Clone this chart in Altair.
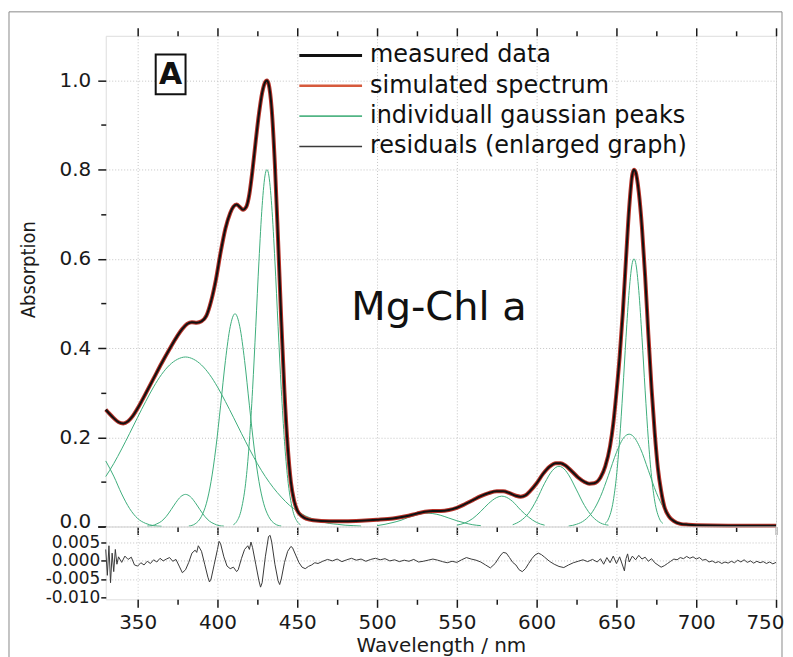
import altair as alt
import pandas as pd

# ---------------- values ----------------
MEAS_NM = [330, 332, 335, 338, 341, 344, 347, 350, 355, 360, 365, 370, 375, 378, 381, 384, 387, 390,
           393, 396, 399, 402, 405, 408, 410, 412, 414, 416, 418, 420, 422, 424, 426, 428, 430, 431,
           432, 434, 436, 438, 440, 442, 444, 446, 448, 450, 453, 456, 460, 470, 480, 490, 500, 510,
           518, 525, 530, 535, 540, 545, 550, 555, 560, 565, 570, 575, 579, 583, 587, 590, 593, 596,
           600, 604, 608, 612, 615, 618, 622, 626, 630, 633, 636, 640, 643, 646, 648, 650, 652, 654,
           656, 658, 660, 661, 662, 664, 666, 668, 670, 672, 674, 676, 678, 680, 683, 686, 690, 695,
           700, 720, 750]
MEAS_ABS = [0.262, 0.254, 0.243, 0.234, 0.231, 0.236, 0.248, 0.265, 0.298, 0.332, 0.366, 0.398, 0.428,
            0.443, 0.454, 0.458, 0.457, 0.460, 0.472, 0.505, 0.553, 0.615, 0.668, 0.703, 0.717, 0.722,
            0.716, 0.710, 0.716, 0.745, 0.800, 0.865, 0.925, 0.972, 0.997, 1.000, 0.993, 0.935, 0.810,
            0.640, 0.460, 0.300, 0.180, 0.100, 0.058, 0.036, 0.023, 0.017, 0.014, 0.012, 0.012, 0.013,
            0.015, 0.018, 0.023, 0.029, 0.033, 0.035, 0.035, 0.037, 0.042, 0.050, 0.059, 0.068, 0.075,
            0.079, 0.079, 0.075, 0.069, 0.067, 0.070, 0.080, 0.097, 0.118, 0.134, 0.142, 0.142, 0.137,
            0.124, 0.110, 0.100, 0.096, 0.097, 0.110, 0.135, 0.180, 0.230, 0.300, 0.380, 0.480, 0.600,
            0.715, 0.790, 0.800, 0.795, 0.750, 0.670, 0.560, 0.430, 0.310, 0.210, 0.130, 0.080, 0.045,
            0.022, 0.012, 0.006, 0.004, 0.003, 0.002, 0.002]

# simulated spectrum (the fit lies on top of the measured data)
SIM_NM = list(MEAS_NM)
SIM_ABS = list(MEAS_ABS)

# individual gaussian peaks
G1_NM = [330, 335, 340, 345, 350, 355, 360, 365]
G1_ABS = [0.147, 0.113, 0.073, 0.040, 0.018, 0.007, 0.002, 0.0005]
G2_NM = [330, 335, 340, 345, 350, 355, 360, 365, 370, 375, 380, 385, 390, 395, 400, 405, 410,
         415, 420, 425, 430, 435, 440, 445, 450, 455, 460, 465, 470, 475, 480, 485, 490]
G2_ABS = [0.112, 0.141, 0.174, 0.209, 0.245, 0.280, 0.313, 0.341, 0.362, 0.375, 0.380, 0.375, 0.362,
          0.341, 0.313, 0.280, 0.245, 0.209, 0.174, 0.141, 0.112, 0.087, 0.066, 0.048, 0.035, 0.024,
          0.017, 0.011, 0.007, 0.005, 0.003, 0.002, 0.001]
G3_NM = [356, 359, 362, 365, 368, 371, 374, 377, 380, 383, 386, 389, 392, 395, 398, 401, 404]
G3_ABS = [0.001, 0.002, 0.006, 0.012, 0.023, 0.038, 0.054, 0.067, 0.072, 0.067, 0.054, 0.038, 0.023,
          0.012, 0.006, 0.002, 0.001]
G4_NM = [382, 386, 390, 393, 396, 399, 402, 405, 408, 411, 414, 417, 420, 423, 426, 429, 432, 436, 440]
G4_ABS = [0.001, 0.006, 0.023, 0.051, 0.101, 0.176, 0.272, 0.372, 0.448, 0.477, 0.448, 0.372, 0.272,
          0.176, 0.101, 0.051, 0.023, 0.006, 0.001]
G5_NM = [410, 412, 415, 418, 420, 422, 424, 426, 428, 430, 431, 432, 434, 436, 438, 440, 442, 444,
         447, 450, 452]
G5_ABS = [0.004, 0.011, 0.039, 0.108, 0.191, 0.307, 0.448, 0.595, 0.719, 0.791, 0.800, 0.791, 0.719,
          0.595, 0.448, 0.307, 0.191, 0.108, 0.039, 0.011, 0.004]
G6_NM = [500, 505, 510, 515, 520, 525, 530, 535, 540, 545, 550, 555, 560, 565]
G6_ABS = [0.002, 0.005, 0.009, 0.014, 0.021, 0.026, 0.030, 0.029, 0.025, 0.019, 0.013, 0.008, 0.004, 0.002]
G7_NM = [550, 555, 560, 565, 570, 575, 578, 580, 585, 590, 595, 600, 605]
G7_ABS = [0.003, 0.008, 0.018, 0.034, 0.052, 0.065, 0.068, 0.067, 0.056, 0.037, 0.021, 0.009, 0.003]
G8_NM = [585, 590, 595, 600, 605, 610, 614, 618, 620, 625, 630, 635, 640, 645]
G8_ABS = [0.004, 0.013, 0.030, 0.060, 0.097, 0.126, 0.135, 0.126, 0.116, 0.082, 0.047, 0.022, 0.008, 0.003]
G9_NM = [620, 625, 630, 635, 640, 645, 650, 655, 658, 660, 665, 670, 675, 680, 685, 690, 695]
G9_ABS = [0.001, 0.005, 0.014, 0.033, 0.067, 0.115, 0.166, 0.201, 0.207, 0.204, 0.175, 0.126, 0.076,
          0.039, 0.016, 0.006, 0.002]
G10_NM = [643, 645, 648, 650, 652, 654, 656, 658, 660, 661, 662, 664, 666, 668, 670, 672, 674, 677, 679]
G10_ABS = [0.007, 0.017, 0.057, 0.112, 0.195, 0.304, 0.424, 0.529, 0.592, 0.600, 0.592, 0.529, 0.424,
           0.304, 0.195, 0.112, 0.057, 0.017, 0.007]

# residuals (wavelength, value)
RESIDUALS = [
    (330, 0.003), (331, -0.004), (332, 0.004), (333, -0.006), (334, 0.002), (335, -0.003),
    (336, 0.003), (337, -0.001), (338, 0.001), (340, -0.0005), (342, 0.0012), (344, 0.0003),
    (346, 0.0009), (348, -0.0012), (350, -0.0015), (352, -0.0006), (354, -0.0012), (356, -0.0002),
    (358, -0.0008), (360, 0.0002), (362, -0.0004), (364, 0.0006), (366, -0.0001), (368, 0.0004),
    (370, 0.0008), (372, -0.0002), (374, 0.0003), (376, -0.0015), (378, -0.0033), (380, -0.0025),
    (382, -0.0005), (384, 0.0020), (386, 0.0028), (387, 0.0022), (388, 0.0040), (390, 0.0025),
    (392, -0.0010), (394, -0.0045), (395, -0.0058), (396, -0.0050), (398, -0.0010), (400, 0.0030),
    (401, 0.0052), (402, 0.0045), (404, 0.0010), (406, -0.0015), (408, -0.0022), (410, -0.0018),
    (412, -0.0030), (413, -0.0025), (415, 0.0005), (417, 0.0030), (419, 0.0040), (420, 0.0030),
    (421, 0.0050), (422, 0.0035), (424, -0.0010), (426, -0.0055), (427, -0.0072), (428, -0.0060),
    (430, 0.0010), (432, 0.0065), (433, 0.0068), (434, 0.0050), (436, -0.0010), (438, -0.0055),
    (439, -0.0065), (440, -0.0050), (442, -0.0005), (444, 0.0025), (446, 0.0038), (447, 0.0035),
    (449, 0.0015), (451, -0.0005), (453, -0.0018), (455, -0.0022), (457, -0.0016), (459, -0.0012),
    (461, -0.0006), (463, -0.0008), (466, -0.0002), (469, 0.0003), (472, -0.0001), (475, 0.0004),
    (478, -0.0003), (481, 0.0002), (484, 0.0006), (487, 0.0001), (490, 0.0004), (493, -0.0002),
    (496, 0.0003), (499, 0.0006), (502, 0.0002), (505, 0.0005), (508, -0.0001), (511, 0.0002),
    (514, -0.0003), (517, 0.0001), (520, -0.0002), (523, 0.0003), (526, -0.0004), (529, -0.0002),
    (532, 0.0001), (535, 0.0004), (538, 0.0001), (541, -0.0003), (544, -0.0006), (547, -0.0002),
    (550, -0.0005), (553, 0.0002), (556, 0.0008), (559, 0.0004), (562, 0.0001), (565, -0.0004),
    (568, -0.0012), (571, -0.0020), (574, -0.0008), (577, 0.0012), (579, 0.0022), (581, 0.0020),
    (583, 0.0008), (585, -0.0005), (587, -0.0012), (589, -0.0025), (591, -0.0030), (593, -0.0022),
    (595, -0.0008), (597, 0.0005), (599, 0.0015), (601, 0.0020), (603, 0.0016), (605, 0.0009),
    (608, -0.0002), (611, -0.0010), (614, -0.0016), (617, -0.0019), (620, -0.0012), (623, -0.0006),
    (626, -0.0002), (629, 0.0002), (632, -0.0003), (635, 0.0003), (638, -0.0004), (640, 0.0005),
    (642, -0.0010), (644, 0.0008), (646, -0.0006), (648, 0.0012), (650, -0.0008), (652, 0.0010),
    (654, -0.0015), (655, -0.0028), (656, 0.0005), (657, 0.0018), (658, -0.0004), (660, 0.0012),
    (662, 0.0002), (664, 0.0014), (666, 0.0004), (668, 0.0009), (670, -0.0002), (672, 0.0005),
    (674, -0.0006), (676, -0.0012), (678, -0.0018), (680, -0.0014), (682, -0.0008), (684, -0.0002),
    (686, 0.0004), (688, 0.0002), (690, 0.0008), (692, 0.0005), (694, 0.0011), (696, 0.0006),
    (698, 0.0010), (700, 0.0004), (702, 0.0008), (704, 0.0001), (706, 0.0003), (708, -0.0004),
    (710, -0.0001), (712, -0.0006), (714, -0.0003), (716, -0.0008), (718, -0.0004), (720, -0.0007),
    (722, -0.0002), (724, -0.0006), (726, 0.0001), (728, -0.0004), (730, 0.0002), (732, -0.0005),
    (734, -0.0001), (736, -0.0007), (738, -0.0002), (740, -0.0006), (742, -0.0003), (744, -0.0008),
    (746, -0.0004), (748, -0.0009), (750, -0.0005),
]
RESID_NM = [p[0] for p in RESIDUALS]
RESID_VAL = [p[1] for p in RESIDUALS]

LEGEND_LABELS = ["measured data", "simulated spectrum", "individuall gaussian peaks",
                 "residuals (enlarged graph)"]
X_MAJOR_TICKS = [350, 400, 450, 500, 550, 600, 650, 700, 750]
X_MINOR_TICKS = [375, 425, 475, 525, 575, 625, 675, 725]
Y_MAJOR_TICKS = [0.0, 0.2, 0.4, 0.6, 0.8, 1.0]
Y_MINOR_TICKS = [0.1, 0.3, 0.5, 0.7, 0.9]
Y_ZERO_TICK = [0.0]
R_TICKS = [-0.010, -0.005, 0.0, 0.005]
R_GRID = [-0.005, 0.0, 0.005]

# ---------------- styling / layout ----------------
FONT = "DejaVu Sans"
NARROW = "Liberation Sans Narrow, DejaVu Sans Condensed, Liberation Sans"
RED = "#b8342a"
GREEN = "#3fae7c"
GRID = "#c4c4c4"
AXC = "#1a1a1a"
FRAME = "#8a8a8a"
W, H_MAIN, H_RES = 672, 492, 73

LEGEND_COLORS = ["#111111", "#d65a3c", "#52b585", "#3a3a3a"]
LEGEND_WIDTHS = [3.0, 1.4, 2.6, 1.2]
LEGEND_ROW_Y = [1.056, 0.988, 0.920, 0.852]
LEG_X0, LEG_X1, LEG_XT = 451.3, 490.6, 495.6

xscale = alt.Scale(domain=[330, 750], nice=False, zero=False)
yscale = alt.Scale(domain=[0, 1.1], nice=False, zero=False)
rscale = alt.Scale(domain=[-0.0105, 0.0092], nice=False, zero=False)

TICK = dict(tickColor=AXC, tickWidth=1.5, domain=False, title=None)
GRIDSTYLE = dict(grid=True, gridColor=GRID, gridDash=[1, 2], gridWidth=1)
YLAB = dict(labelFont=FONT, labelFontSize=20, labelColor=AXC, labelPadding=7,
            labelOverlap=False, labelBound=False, labelFlush=False)

ax_x_bot_major = alt.Axis(orient="bottom", values=X_MAJOR_TICKS, labels=False, tickSize=8,
                          **TICK, **GRIDSTYLE)
ax_x_bot_minor = alt.Axis(orient="bottom", values=X_MINOR_TICKS, labels=False, tickSize=5,
                          grid=False, **TICK)
ax_x_top_major = alt.Axis(orient="top", values=X_MAJOR_TICKS, labels=False, tickSize=8,
                          grid=False, **TICK)
ax_x_top_minor = alt.Axis(orient="top", values=X_MINOR_TICKS, labels=False, tickSize=5,
                          grid=False, **TICK)
ax_y_major = alt.Axis(orient="left", values=Y_MAJOR_TICKS, format=".1f",
                      labelExpr="datum.value === 0 ? '' : datum.label", **YLAB,
                      tickColor=AXC, tickWidth=1.5, tickSize=8, domain=False, **GRIDSTYLE,
                      title="Absorption", titleFont=NARROW, titleFontSize=20,
                      titleFontWeight="normal", titleColor=AXC, titleX=-77, titleY=234,
                      titleAngle=270, titleBaseline="middle", titleAlign="center")
ax_y_zero = alt.Axis(orient="left", values=Y_ZERO_TICK, format=".1f", **YLAB,
                     labelBaseline="alphabetic", labelOffset=1,
                     tickSize=8, grid=False, **TICK)
ax_y_minor = alt.Axis(orient="left", values=Y_MINOR_TICKS, labels=False, tickSize=5,
                      grid=False, **TICK)

# the last label ("750") sits at the window edge: flush it so that it stays readable
ax_x_res_major = alt.Axis(orient="bottom", values=X_MAJOR_TICKS, format="d",
                          labelFont=FONT, labelFontSize=20, labelColor=AXC, labelPadding=5,
                          labelFlush=True, labelFlushOffset=8, labelOverlap=False,
                          tickColor=AXC, tickWidth=1.5, tickSize=8, domain=False,
                          grid=True, gridColor=GRID, gridDash=[1, 2], gridWidth=1, gridOpacity=0.8,
                          title="Wavelength / nm", titleFont=FONT, titleFontSize=20,
                          titleFontWeight="normal", titleColor=AXC, titleY=52,
                          titleBaseline="alphabetic")
ax_x_res_minor = alt.Axis(orient="bottom", values=X_MINOR_TICKS, labels=False, tickSize=5,
                          grid=False, **TICK)
ax_y_res = alt.Axis(orient="left", values=R_TICKS,
                    labelExpr="replace(format(datum.value, '.3f'), '\u2212', '-')",
                    labelFont=FONT, labelFontSize=17, labelColor=AXC, labelPadding=1,
                    labelOverlap=False, labelBound=False, labelFlush=False,
                    tickColor=AXC, tickWidth=1.5, tickSize=5, domain=False, grid=False, title=None)
ax_y_res_grid = alt.Axis(orient="left", values=R_GRID, labels=False, ticks=False, domain=False,
                         title=None, **GRIDSTYLE)

# ---------------- tables ----------------
meas_df = pd.DataFrame({"nm": MEAS_NM, "a": MEAS_ABS})
sim_df = pd.DataFrame({"nm": SIM_NM, "a": SIM_ABS})
peak_sets = [(G1_NM, G1_ABS), (G2_NM, G2_ABS), (G3_NM, G3_ABS), (G4_NM, G4_ABS), (G5_NM, G5_ABS),
             (G6_NM, G6_ABS), (G7_NM, G7_ABS), (G8_NM, G8_ABS), (G9_NM, G9_ABS), (G10_NM, G10_ABS)]
peaks_df = pd.concat([pd.DataFrame({"nm": n, "a": a, "peak": f"g{i + 1}"})
                      for i, (n, a) in enumerate(peak_sets)], ignore_index=True)
resid_df = pd.DataFrame({"nm": RESID_NM, "r": RESID_VAL})
legend_df = pd.DataFrame({"label": LEGEND_LABELS, "y": LEGEND_ROW_Y,
                          "x0": LEG_X0, "x1": LEG_X1, "xt": LEG_XT})

# ---------------- main panel ----------------
one = pd.DataFrame({"k": [0]})
frame_left = alt.Chart(one).mark_rule(color=FRAME, strokeWidth=1).encode(
    x=alt.value(-97), y=alt.value(-24), y2=alt.value(640))
frame_top = alt.Chart(one).mark_rule(color=FRAME, strokeWidth=1).encode(
    x=alt.value(-97), x2=alt.value(678), y=alt.value(-24))
frame_right = alt.Chart(one).mark_rule(color=FRAME, strokeWidth=1).encode(
    x=alt.value(678), y=alt.value(-24), y2=alt.value(640))

peaks = alt.Chart(peaks_df).mark_line(color=GREEN, strokeWidth=1, interpolate="monotone").encode(
    x=alt.X("nm:Q", scale=xscale, axis=ax_x_bot_major),
    y=alt.Y("a:Q", scale=yscale, axis=ax_y_major),
    detail="peak:N")
sim = alt.Chart(sim_df).mark_line(color=RED, strokeWidth=4, interpolate="monotone").encode(
    x=alt.X("nm:Q", scale=xscale, axis=ax_x_bot_minor),
    y=alt.Y("a:Q", scale=yscale, axis=ax_y_minor))
meas = alt.Chart(meas_df).mark_line(color="#111111", strokeWidth=2, interpolate="monotone").encode(
    x=alt.X("nm:Q", scale=xscale, axis=ax_x_top_major),
    y=alt.Y("a:Q", scale=yscale, axis=None))

box = alt.Chart(pd.DataFrame({"x0": [361.3], "x1": [380.0], "y0": [0.969], "y1": [1.058]})).mark_rect(
    fill="white", stroke="#111111", strokeWidth=2).encode(
    x=alt.X("x0:Q", scale=xscale, axis=ax_x_top_minor), x2="x1:Q",
    y=alt.Y("y0:Q", scale=yscale, axis=None), y2="y1:Q")
a_text = alt.Chart(pd.DataFrame({"x": [370.6], "y": [1.013], "t": ["A"]})).mark_text(
    font=FONT, fontSize=30, fontWeight="bold", align="center", baseline="middle",
    color="#111111").encode(
    x=alt.X("x:Q", scale=xscale, axis=None), y=alt.Y("y:Q", scale=yscale, axis=None), text="t:N")
mg_text = alt.Chart(pd.DataFrame({"x": [538.8], "y": [0.464], "t": ["Mg-Chl a"]})).mark_text(
    font=FONT, fontSize=40, align="center", baseline="alphabetic", color="#111111").encode(
    x=alt.X("x:Q", scale=xscale, axis=None), y=alt.Y("y:Q", scale=yscale, axis=None), text="t:N")

leg_rules = alt.Chart(legend_df).mark_rule().encode(
    x=alt.X("x0:Q", scale=xscale, axis=None), x2="x1:Q",
    y=alt.Y("y:Q", scale=yscale, axis=None),
    color=alt.Color("label:N", scale=alt.Scale(domain=LEGEND_LABELS, range=LEGEND_COLORS), legend=None),
    strokeWidth=alt.StrokeWidth("label:N", scale=alt.Scale(domain=LEGEND_LABELS, range=LEGEND_WIDTHS),
                                legend=None))
leg_text = alt.Chart(legend_df).mark_text(
    font=FONT, fontSize=24, align="left", baseline="middle", color="#111111").encode(
    x=alt.X("xt:Q", scale=xscale, axis=None), y=alt.Y("y:Q", scale=yscale, axis=ax_y_zero),
    text="label:N")

main = alt.layer(frame_left, frame_top, frame_right, peaks, sim, meas, box, a_text, mg_text,
                 leg_rules, leg_text).resolve_axis(
    x="independent", y="independent").properties(width=W, height=H_MAIN)

# ---------------- residual panel ----------------
resid = alt.Chart(resid_df).mark_line(color="#3a3a3a", strokeWidth=1).encode(
    x=alt.X("nm:Q", scale=xscale, axis=ax_x_res_major),
    y=alt.Y("r:Q", scale=rscale, axis=ax_y_res))
resid_minor = alt.Chart(resid_df).mark_line(opacity=0).encode(
    x=alt.X("nm:Q", scale=xscale, axis=ax_x_res_minor),
    y=alt.Y("r:Q", scale=rscale, axis=ax_y_res_grid))
res_panel = alt.layer(resid_minor, resid).resolve_axis(
    x="independent", y="independent").properties(width=W, height=H_RES)

chart = alt.vconcat(main, res_panel, spacing=0, bounds="flush").resolve_scale(
    y="independent").properties(
    padding={"left": 0, "top": 2, "right": 0, "bottom": 0}).configure_view(
    stroke="#1a1a1a", strokeWidth=1.5).configure(background="white")

chart.save("out.html", embed_options={"renderer": "svg", "actions": False})
